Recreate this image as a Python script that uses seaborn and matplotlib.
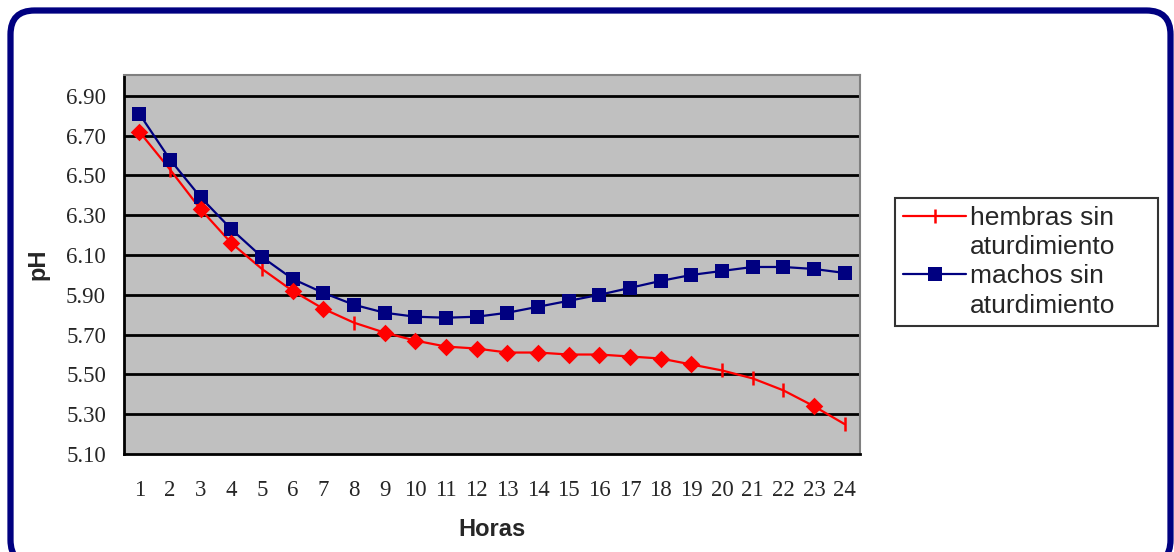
import numpy as np
import pandas as pd
import matplotlib
matplotlib.use("Agg")
import matplotlib.pyplot as plt
from matplotlib.patches import FancyBboxPatch
from matplotlib.lines import Line2D
import seaborn as sns

horas = list(range(1, 25))
hembras = [6.72, 6.53, 6.33, 6.16, 6.03, 5.92, 5.83, 5.76, 5.71, 5.67, 5.64, 5.63,
           5.61, 5.61, 5.60, 5.60, 5.59, 5.58, 5.55, 5.52, 5.48, 5.42, 5.34, 5.25]
machos = [6.81, 6.58, 6.39, 6.23, 6.09, 5.98, 5.91, 5.85, 5.81, 5.79, 5.785, 5.79,
          5.81, 5.84, 5.87, 5.90, 5.935, 5.97, 6.00, 6.02, 6.04, 6.04, 6.03, 6.01]
# puntos con rombo en la serie roja
rombos = [1, 3, 4, 6, 7, 9, 10, 11, 12, 13, 14, 15, 16, 17, 18, 19, 23]
yticks = [5.10, 5.30, 5.50, 5.70, 5.90, 6.10, 6.30, 6.50, 6.70, 6.90]

df = pd.DataFrame({"Horas": horas, "hembras": hembras, "machos": machos})
df_r = df[df["Horas"].isin(rombos)]

sns.set_style("white")
plt.rcParams['font.family'] = ['Liberation Sans', 'DejaVu Sans']

W, H = 1174, 552
fig = plt.figure(figsize=(W / 100, H / 100), dpi=100)
ax = fig.add_axes([124 / W, 1 - 454 / H, (860 - 124) / W, (454 - 75) / H])
ax.set_facecolor("#C0C0C0")

sns.lineplot(data=df, x="Horas", y="hembras", ax=ax, color="#FF0000", lw=1.6,
             marker="|", markersize=10, markeredgewidth=1.8, markeredgecolor="#FF0000",
             label="hembras sin")
sns.scatterplot(data=df_r, x="Horas", y="hembras", ax=ax, color="#FF0000", marker="D",
                s=80, linewidth=0, legend=False, zorder=3)
sns.lineplot(data=df, x="Horas", y="machos", ax=ax, color="#000080", lw=1.6,
             marker="s", markersize=10.5, markeredgewidth=0, label="machos sin")

ax.set_xlim(0.5, 24.5)
ax.set_ylim(5.10, 7.005)
ax.set_yticks(yticks)
ax.set_yticklabels([f"{v:.2f}" for v in yticks], family="Liberation Serif", fontsize=16.5)
for v in yticks[1:]:
    ax.axhline(v, color="black", lw=2, zorder=1)

ax.set_xticks(horas)
ax.set_xticklabels([str(h) for h in horas], family="Liberation Serif", fontsize=16.5)
ax.set_xticks(np.arange(0.5, 25, 1), minor=True)
ax.tick_params(axis="x", which="major", length=0, pad=19)
ax.tick_params(axis="x", which="minor", length=7, width=2, direction="out", color="black")
ax.tick_params(axis="y", length=7, width=2, direction="out", color="black", pad=6)

for s in ["left", "bottom"]:
    ax.spines[s].set_color("black")
    ax.spines[s].set_linewidth(2)
for s in ["top", "right"]:
    ax.spines[s].set_color("#808080")
    ax.spines[s].set_linewidth(1.5)

ax.set_xlabel("Horas", fontsize=17, fontweight="bold", labelpad=12)
ax.set_ylabel("pH", fontsize=17, fontweight="bold", labelpad=12)

# leyenda: el simbolo va en la primera linea de cada etiqueta
handles, labels = ax.get_legend_handles_labels()
blank = Line2D([], [], alpha=0)
leg = ax.legend([handles[0], blank, handles[1], blank],
                [labels[0], "aturdimiento", labels[1], "aturdimiento"],
                loc="upper left", bbox_to_anchor=(895 / W, 1 - 325 / H, 263 / W, 127 / H),
                bbox_transform=fig.transFigure, mode="expand",
                frameon=True, fancybox=False, fontsize=19, handlelength=2.4, handletextpad=0.15,
                borderpad=0.3, labelspacing=0.2, borderaxespad=0)
leg.get_frame().set_edgecolor("black")
leg.get_frame().set_linewidth(1.5)

box = FancyBboxPatch((10.5, -12), 1160, 552 - 10.5 + 12, boxstyle="round,pad=0,rounding_size=24",
                     transform=None, fill=False, edgecolor="#000080", lw=4.5)
fig.add_artist(box)

fig.savefig("out.png", dpi=100)
